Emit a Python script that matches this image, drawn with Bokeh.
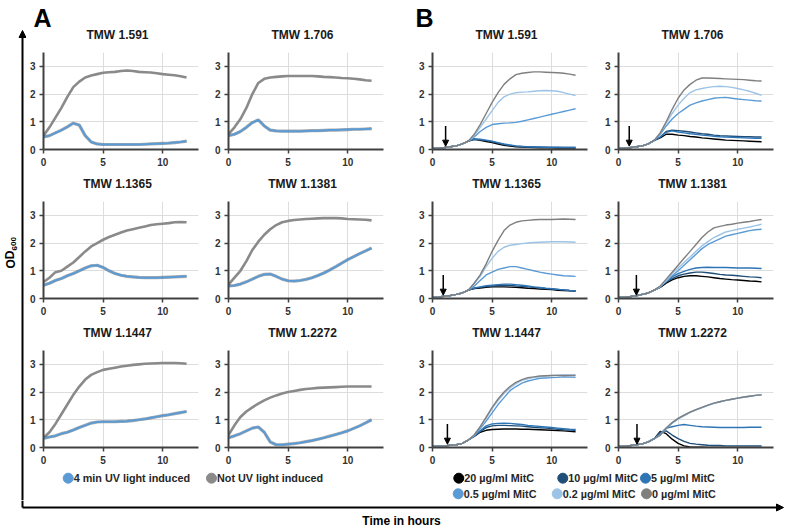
from bokeh.plotting import figure
from bokeh.layouts import row, column
from bokeh.models import Range1d, FixedTicker, Arrow, NormalHead
from bokeh.core.properties import value
from bokeh.embed import file_html
from bokeh.resources import INLINE

FONT = "Liberation Sans"

hours = [0, 0.5, 1, 1.5, 2, 2.5, 3, 3.5, 4, 4.5, 5, 5.5, 6, 6.5, 7, 7.5, 8, 8.5, 9, 9.5, 10, 10.5, 11, 11.5, 12]

strains = ["TMW 1.591", "TMW 1.706", "TMW 1.1365", "TMW 1.1381", "TMW 1.1447", "TMW 1.2272"]

# ---- Panel A: OD600, 4 min UV induced vs not induced ----
a_uv_591 = [0.45, 0.50, 0.60, 0.70, 0.82, 0.95, 0.88, 0.50, 0.27, 0.20, 0.18, 0.18, 0.18, 0.18, 0.18, 0.18, 0.18, 0.19, 0.20, 0.21, 0.22, 0.23, 0.25, 0.27, 0.30]
a_ctrl_591 = [0.50, 0.80, 1.15, 1.50, 1.90, 2.25, 2.45, 2.60, 2.67, 2.72, 2.77, 2.79, 2.80, 2.83, 2.85, 2.83, 2.80, 2.79, 2.78, 2.75, 2.72, 2.70, 2.68, 2.64, 2.60]
a_uv_706 = [0.50, 0.55, 0.65, 0.80, 0.97, 1.07, 0.85, 0.70, 0.67, 0.66, 0.66, 0.66, 0.66, 0.67, 0.68, 0.68, 0.69, 0.70, 0.70, 0.71, 0.72, 0.73, 0.73, 0.74, 0.75]
a_ctrl_706 = [0.55, 0.80, 1.10, 1.50, 2.00, 2.40, 2.55, 2.60, 2.62, 2.64, 2.65, 2.65, 2.65, 2.65, 2.65, 2.64, 2.62, 2.61, 2.60, 2.58, 2.57, 2.55, 2.53, 2.50, 2.48]
a_uv_1365 = [0.48, 0.55, 0.65, 0.72, 0.82, 0.90, 1.00, 1.10, 1.18, 1.20, 1.12, 1.00, 0.90, 0.84, 0.80, 0.78, 0.76, 0.75, 0.75, 0.75, 0.76, 0.77, 0.78, 0.79, 0.80]
a_ctrl_1365 = [0.60, 0.75, 0.95, 1.00, 1.15, 1.30, 1.50, 1.70, 1.88, 2.00, 2.12, 2.22, 2.30, 2.38, 2.45, 2.50, 2.55, 2.60, 2.65, 2.68, 2.70, 2.72, 2.75, 2.76, 2.75]
a_uv_1381 = [0.45, 0.47, 0.52, 0.60, 0.70, 0.80, 0.87, 0.88, 0.80, 0.70, 0.64, 0.63, 0.65, 0.69, 0.75, 0.83, 0.92, 1.03, 1.15, 1.28, 1.40, 1.51, 1.62, 1.72, 1.82]
a_ctrl_1381 = [0.50, 0.75, 1.00, 1.35, 1.75, 2.05, 2.30, 2.50, 2.65, 2.75, 2.80, 2.83, 2.85, 2.87, 2.88, 2.89, 2.90, 2.90, 2.90, 2.89, 2.87, 2.86, 2.85, 2.84, 2.82]
a_uv_1447 = [0.33, 0.38, 0.42, 0.50, 0.55, 0.63, 0.72, 0.80, 0.88, 0.92, 0.93, 0.93, 0.93, 0.94, 0.95, 0.97, 1.00, 1.03, 1.07, 1.11, 1.15, 1.18, 1.22, 1.26, 1.30]
a_ctrl_1447 = [0.35, 0.55, 0.85, 1.20, 1.55, 1.90, 2.20, 2.45, 2.62, 2.72, 2.80, 2.84, 2.88, 2.92, 2.95, 2.98, 3.00, 3.02, 3.03, 3.04, 3.05, 3.05, 3.05, 3.04, 3.02]
a_uv_2272 = [0.35, 0.42, 0.50, 0.60, 0.70, 0.74, 0.55, 0.20, 0.10, 0.10, 0.12, 0.14, 0.17, 0.21, 0.25, 0.30, 0.35, 0.41, 0.47, 0.53, 0.60, 0.69, 0.78, 0.89, 1.00]
a_ctrl_2272 = [0.45, 0.80, 1.10, 1.30, 1.45, 1.58, 1.70, 1.80, 1.88, 1.95, 2.00, 2.04, 2.08, 2.11, 2.13, 2.15, 2.16, 2.17, 2.18, 2.19, 2.20, 2.20, 2.20, 2.20, 2.20]

a_labels = ["4 min UV light induced", "Not UV light induced"]

# ---- Panel B: OD600 with mitomycin C ----
mitc_labels = ["20 \u00b5g/ml MitC", "10 \u00b5g/ml MitC", "5 \u00b5g/ml MitC",
               "0.5 \u00b5g/ml MitC", "0.2 \u00b5g/ml MitC", "0 \u00b5g/ml MitC"]
induction_hours = [1.1, 0.9, 0.9, 1.5, 1.25, 1.55]

b_591_20 = [0.05, 0.06, 0.07, 0.10, 0.13, 0.20, 0.30, 0.37, 0.33, 0.29, 0.25, 0.20, 0.15, 0.12, 0.10, 0.09, 0.08, 0.07, 0.06, 0.06, 0.06, 0.05, 0.05, 0.05, 0.05]
b_591_10 = [0.05, 0.06, 0.07, 0.10, 0.13, 0.20, 0.30, 0.37, 0.35, 0.32, 0.28, 0.23, 0.18, 0.15, 0.12, 0.11, 0.10, 0.09, 0.08, 0.08, 0.07, 0.07, 0.07, 0.07, 0.07]
b_591_5 = [0.05, 0.06, 0.07, 0.10, 0.13, 0.20, 0.30, 0.38, 0.37, 0.34, 0.30, 0.25, 0.20, 0.16, 0.13, 0.11, 0.10, 0.09, 0.09, 0.08, 0.08, 0.08, 0.07, 0.07, 0.07]
b_591_05 = [0.05, 0.06, 0.07, 0.10, 0.13, 0.20, 0.30, 0.45, 0.65, 0.80, 0.90, 0.93, 0.95, 0.96, 0.98, 1.02, 1.07, 1.12, 1.17, 1.22, 1.27, 1.32, 1.37, 1.42, 1.47]
b_591_02 = [0.05, 0.06, 0.07, 0.10, 0.13, 0.20, 0.30, 0.50, 0.80, 1.10, 1.40, 1.70, 1.90, 2.00, 2.05, 2.07, 2.08, 2.10, 2.12, 2.13, 2.12, 2.10, 2.05, 2.00, 1.95]
b_591_0 = [0.05, 0.06, 0.07, 0.10, 0.13, 0.20, 0.30, 0.55, 0.90, 1.30, 1.70, 2.05, 2.35, 2.55, 2.70, 2.75, 2.78, 2.80, 2.80, 2.79, 2.78, 2.77, 2.75, 2.72, 2.68]

b_706_20 = [0.05, 0.06, 0.07, 0.10, 0.13, 0.20, 0.33, 0.42, 0.55, 0.55, 0.52, 0.50, 0.47, 0.45, 0.42, 0.40, 0.38, 0.36, 0.34, 0.33, 0.32, 0.31, 0.30, 0.29, 0.28]
b_706_10 = [0.05, 0.06, 0.07, 0.10, 0.13, 0.20, 0.33, 0.45, 0.65, 0.70, 0.68, 0.66, 0.63, 0.60, 0.57, 0.55, 0.52, 0.50, 0.49, 0.48, 0.47, 0.46, 0.46, 0.45, 0.45]
b_706_5 = [0.05, 0.06, 0.07, 0.10, 0.13, 0.20, 0.33, 0.45, 0.62, 0.67, 0.63, 0.60, 0.57, 0.55, 0.52, 0.50, 0.48, 0.46, 0.45, 0.44, 0.43, 0.42, 0.41, 0.40, 0.40]
b_706_05 = [0.05, 0.06, 0.07, 0.10, 0.13, 0.20, 0.33, 0.55, 0.85, 1.10, 1.30, 1.45, 1.60, 1.68, 1.75, 1.80, 1.85, 1.87, 1.88, 1.85, 1.82, 1.80, 1.78, 1.76, 1.75]
b_706_02 = [0.05, 0.06, 0.07, 0.10, 0.13, 0.20, 0.33, 0.60, 0.95, 1.30, 1.60, 1.85, 2.05, 2.15, 2.20, 2.24, 2.27, 2.28, 2.27, 2.24, 2.20, 2.15, 2.10, 2.03, 1.95]
b_706_0 = [0.05, 0.06, 0.07, 0.10, 0.13, 0.20, 0.33, 0.60, 1.00, 1.45, 1.85, 2.15, 2.35, 2.50, 2.58, 2.58, 2.57, 2.56, 2.55, 2.54, 2.53, 2.52, 2.50, 2.48, 2.47]

b_1365_20 = [0.05, 0.06, 0.08, 0.11, 0.15, 0.20, 0.30, 0.36, 0.38, 0.40, 0.42, 0.42, 0.42, 0.41, 0.40, 0.39, 0.37, 0.36, 0.34, 0.33, 0.32, 0.30, 0.29, 0.28, 0.27]
b_1365_10 = [0.05, 0.06, 0.08, 0.11, 0.15, 0.20, 0.30, 0.37, 0.40, 0.43, 0.45, 0.47, 0.48, 0.47, 0.45, 0.44, 0.42, 0.40, 0.38, 0.36, 0.35, 0.33, 0.31, 0.29, 0.28]
b_1365_5 = [0.05, 0.06, 0.08, 0.11, 0.15, 0.20, 0.30, 0.38, 0.42, 0.46, 0.48, 0.50, 0.52, 0.52, 0.50, 0.48, 0.45, 0.42, 0.40, 0.37, 0.35, 0.33, 0.31, 0.29, 0.28]
b_1365_05 = [0.05, 0.06, 0.08, 0.11, 0.15, 0.20, 0.30, 0.45, 0.65, 0.85, 0.95, 1.05, 1.10, 1.15, 1.15, 1.10, 1.05, 1.00, 0.95, 0.91, 0.88, 0.85, 0.82, 0.81, 0.80]
b_1365_02 = [0.05, 0.06, 0.08, 0.11, 0.15, 0.20, 0.30, 0.55, 0.80, 1.15, 1.45, 1.70, 1.85, 1.92, 1.95, 1.98, 2.00, 2.02, 2.03, 2.04, 2.05, 2.05, 2.05, 2.04, 2.03]
b_1365_0 = [0.05, 0.06, 0.08, 0.11, 0.15, 0.20, 0.30, 0.55, 0.85, 1.25, 1.70, 2.10, 2.45, 2.65, 2.75, 2.80, 2.82, 2.84, 2.85, 2.85, 2.85, 2.86, 2.87, 2.86, 2.85]

b_1381_20 = [0.05, 0.06, 0.07, 0.10, 0.15, 0.20, 0.30, 0.40, 0.55, 0.67, 0.75, 0.80, 0.82, 0.82, 0.80, 0.78, 0.75, 0.72, 0.70, 0.68, 0.67, 0.65, 0.63, 0.62, 0.60]
b_1381_10 = [0.05, 0.06, 0.07, 0.10, 0.15, 0.20, 0.30, 0.42, 0.60, 0.72, 0.82, 0.88, 0.92, 0.95, 0.95, 0.93, 0.90, 0.87, 0.85, 0.84, 0.82, 0.80, 0.78, 0.77, 0.75]
b_1381_5 = [0.05, 0.06, 0.07, 0.10, 0.15, 0.20, 0.30, 0.43, 0.62, 0.78, 0.90, 0.98, 1.05, 1.10, 1.12, 1.13, 1.12, 1.12, 1.12, 1.11, 1.10, 1.10, 1.10, 1.09, 1.08]
b_1381_05 = [0.05, 0.06, 0.07, 0.10, 0.15, 0.20, 0.30, 0.43, 0.62, 0.82, 1.00, 1.20, 1.40, 1.60, 1.80, 1.95, 2.05, 2.15, 2.25, 2.30, 2.35, 2.40, 2.45, 2.48, 2.50]
b_1381_02 = [0.05, 0.06, 0.07, 0.10, 0.15, 0.20, 0.30, 0.43, 0.65, 0.90, 1.10, 1.30, 1.50, 1.70, 1.90, 2.05, 2.20, 2.30, 2.40, 2.45, 2.50, 2.54, 2.58, 2.63, 2.68]
b_1381_0 = [0.05, 0.06, 0.07, 0.10, 0.15, 0.20, 0.30, 0.45, 0.70, 0.95, 1.20, 1.45, 1.70, 1.95, 2.20, 2.40, 2.55, 2.60, 2.65, 2.68, 2.72, 2.75, 2.78, 2.82, 2.85]

b_1447_20 = [0.05, 0.05, 0.06, 0.08, 0.10, 0.15, 0.27, 0.40, 0.55, 0.62, 0.65, 0.66, 0.67, 0.67, 0.67, 0.66, 0.66, 0.65, 0.64, 0.63, 0.62, 0.61, 0.60, 0.58, 0.57]
b_1447_10 = [0.05, 0.05, 0.06, 0.08, 0.10, 0.15, 0.27, 0.42, 0.58, 0.72, 0.78, 0.80, 0.80, 0.79, 0.78, 0.77, 0.75, 0.73, 0.71, 0.70, 0.68, 0.66, 0.64, 0.63, 0.62]
b_1447_5 = [0.05, 0.05, 0.06, 0.08, 0.10, 0.15, 0.27, 0.42, 0.60, 0.78, 0.85, 0.87, 0.88, 0.87, 0.85, 0.83, 0.80, 0.78, 0.76, 0.74, 0.72, 0.70, 0.68, 0.66, 0.65]
b_1447_05 = [0.05, 0.05, 0.06, 0.08, 0.10, 0.15, 0.27, 0.42, 0.68, 0.95, 1.25, 1.55, 1.80, 2.05, 2.20, 2.32, 2.40, 2.45, 2.50, 2.51, 2.52, 2.53, 2.55, 2.54, 2.53]
b_1447_02 = [0.05, 0.05, 0.06, 0.08, 0.10, 0.15, 0.27, 0.45, 0.75, 1.05, 1.40, 1.70, 1.95, 2.15, 2.30, 2.42, 2.48, 2.52, 2.55, 2.58, 2.60, 2.61, 2.62, 2.62, 2.62]
b_1447_0 = [0.05, 0.05, 0.06, 0.08, 0.10, 0.15, 0.27, 0.45, 0.75, 1.10, 1.45, 1.75, 2.00, 2.20, 2.35, 2.45, 2.52, 2.55, 2.58, 2.59, 2.60, 2.60, 2.60, 2.60, 2.60]

b_2272_20 = [0.05, 0.06, 0.07, 0.10, 0.13, 0.20, 0.32, 0.58, 0.50, 0.30, 0.15, 0.06, 0.02, 0.01, 0.01, 0.00, 0.00, 0.00, 0.00, 0.00, 0.00, 0.00, 0.00, 0.00, 0.00]
b_2272_10 = [0.05, 0.06, 0.07, 0.10, 0.13, 0.20, 0.32, 0.55, 0.60, 0.45, 0.32, 0.22, 0.15, 0.12, 0.10, 0.08, 0.07, 0.07, 0.06, 0.06, 0.06, 0.06, 0.06, 0.06, 0.06]
b_2272_5 = [0.05, 0.06, 0.07, 0.10, 0.13, 0.20, 0.32, 0.50, 0.70, 0.75, 0.80, 0.83, 0.80, 0.77, 0.75, 0.74, 0.73, 0.72, 0.72, 0.72, 0.72, 0.72, 0.73, 0.73, 0.73]
b_2272_05 = [0.05, 0.06, 0.07, 0.10, 0.13, 0.20, 0.32, 0.45, 0.68, 0.88, 1.03, 1.15, 1.27, 1.36, 1.44, 1.52, 1.59, 1.65, 1.70, 1.74, 1.78, 1.81, 1.85, 1.88, 1.90]
b_2272_02 = [0.05, 0.06, 0.07, 0.10, 0.13, 0.20, 0.32, 0.45, 0.70, 0.90, 1.05, 1.17, 1.28, 1.37, 1.45, 1.53, 1.60, 1.65, 1.70, 1.74, 1.78, 1.82, 1.85, 1.88, 1.91]
b_2272_0 = [0.05, 0.06, 0.07, 0.10, 0.13, 0.20, 0.32, 0.45, 0.70, 0.90, 1.05, 1.17, 1.28, 1.37, 1.45, 1.53, 1.60, 1.65, 1.70, 1.74, 1.78, 1.82, 1.85, 1.88, 1.90]

a_uv = [a_uv_591, a_uv_706, a_uv_1365, a_uv_1381, a_uv_1447, a_uv_2272]
a_ctrl = [a_ctrl_591, a_ctrl_706, a_ctrl_1365, a_ctrl_1381, a_ctrl_1447, a_ctrl_2272]
b_series = [
    [b_591_20, b_591_10, b_591_5, b_591_05, b_591_02, b_591_0],
    [b_706_20, b_706_10, b_706_5, b_706_05, b_706_02, b_706_0],
    [b_1365_20, b_1365_10, b_1365_5, b_1365_05, b_1365_02, b_1365_0],
    [b_1381_20, b_1381_10, b_1381_5, b_1381_05, b_1381_02, b_1381_0],
    [b_1447_20, b_1447_10, b_1447_5, b_1447_05, b_1447_02, b_1447_0],
    [b_2272_20, b_2272_10, b_2272_5, b_2272_05, b_2272_02, b_2272_0],
]

UV_BLUE = "#5B9BD5"
CTRL_GRAY = "#8A8A8A"
mitc_colors = ["#000000", "#1F4E79", "#2E75B6", "#5B9BD5", "#9DC3E6", "#7F7F7F"]
AXIS_C = "#404040"

# layout geometry (pixels)
col_widths = [185, 204, 186, 186]
col_border_right = [13, 32, 14, 14]
row_border_bottom = [28, 28, 24]
BORDER_LEFT = 17
BORDER_TOP = 2
FRAME_H = 97
LEFT_W = 26
TOP_H = 50          # panel letters + first row titles
TITLE_H = 22        # title strips for rows 2 and 3
LEG_H = 29
BOT_H = 28
title_x = [91, 276, 480, 666]   # title centres inside a strip


def panel(w, br, bb):
    p = figure(width=w, height=BORDER_TOP + FRAME_H + bb,
               x_range=Range1d(0, 13), y_range=Range1d(0, 3.5),
               output_backend="svg", toolbar_location=None, title=None,
               min_border_left=BORDER_LEFT, min_border_right=br,
               min_border_top=BORDER_TOP, min_border_bottom=bb)
    p.outline_line_color = None
    p.background_fill_color = "white"
    p.border_fill_color = "white"
    p.xaxis.ticker = FixedTicker(ticks=[0, 5, 10])
    p.yaxis.ticker = FixedTicker(ticks=[0, 1, 2, 3])
    for ax in (p.xaxis[0], p.yaxis[0]):
        ax.axis_line_color = AXIS_C
        ax.axis_line_width = 2
        ax.major_tick_line_color = AXIS_C
        ax.major_tick_line_width = 1.5
        ax.major_tick_in = 0
        ax.major_tick_out = 4
        ax.minor_tick_line_color = None
        ax.major_label_text_font = FONT
        ax.major_label_text_font_size = "10px"
        ax.major_label_text_font_style = "bold"
        ax.major_label_text_color = "#333333"
        ax.major_label_standoff = 4
    p.grid.grid_line_color = "#DDDDDD"
    p.grid.grid_line_width = 1
    return p


def canvas(w, h):
    c = figure(width=w, height=h, x_range=Range1d(0, w), y_range=Range1d(0, h),
               output_backend="svg", toolbar_location=None, min_border=0,
               x_axis_type=None, y_axis_type=None, title=None)
    c.grid.visible = False
    c.outline_line_color = None
    c.background_fill_color = "white"
    c.border_fill_color = "white"
    return c


def add_titles(strip, r, y):
    names = [strains[r * 2], strains[r * 2 + 1], strains[r * 2], strains[r * 2 + 1]]
    strip.text(x=title_x, y=[y] * 4, text=names, text_font=value(FONT),
               text_font_size="12px", text_font_style="bold", text_align="center",
               text_baseline="middle", text_color="#1a1a1a")


INNER_W = sum(col_widths)  # 761

blocks = []
# top strip: panel letters and first row titles
top = canvas(INNER_W, TOP_H)
top.text(x=[7, 389], y=[TOP_H - 17, TOP_H - 17], text=["A", "B"], text_font=value(FONT),
         text_font_size="25px", text_font_style="bold", text_align="left",
         text_baseline="middle", text_color="black")
add_titles(top, 0, TOP_H - 34)
blocks.append(top)

for r in range(3):
    if r > 0:
        ts = canvas(INNER_W, TITLE_H)
        add_titles(ts, r, TITLE_H - 6)
        blocks.append(ts)
    figs = []
    for c in range(4):
        p = panel(col_widths[c], col_border_right[c], row_border_bottom[r])
        if c < 2:
            k = r * 2 + c
            p.line(hours, a_ctrl[k], line_color=CTRL_GRAY, line_width=2.6)
            p.line(hours, a_uv[k], line_color="#2b2b2b", line_width=3.2, line_alpha=0.4)
            p.line(hours, a_uv[k], line_color=UV_BLUE, line_width=2)
        else:
            k = r * 2 + (c - 2)
            for ys, col in zip(b_series[k], mitc_colors):
                p.line(hours, ys, line_color=col, line_width=1.4)
            t = induction_hours[k]
            p.add_layout(Arrow(end=NormalHead(size=6, fill_color="black", line_color="black"),
                               x_start=t, y_start=0.85, x_end=t, y_end=0.12,
                               line_color="black", line_width=1.5))
        figs.append(p)
    blocks.append(row(*figs, spacing=0))

# legend strip
leg = canvas(INNER_W, LEG_H)
lx = [41.7, 185, 432.3, 536.3, 619, 431.7, 530.7, 620]
ly = [22.3, 22.3, 22.3, 22.3, 22.3, 6.7, 6.7, 6.7]
lcol = [UV_BLUE, CTRL_GRAY] + mitc_colors
ltxt = a_labels + mitc_labels
leg.scatter(x=lx, y=ly, marker="circle", size=10, fill_color=lcol, line_color=lcol)
leg.text(x=[v + 5.5 for v in lx], y=ly, text=ltxt, text_font=value(FONT),
         text_font_size="10.8px", text_font_style="bold", text_align="left",
         text_baseline="middle", text_color="#262626")
blocks.append(leg)

LEFT_H = TOP_H + 2 * TITLE_H + 3 * (BORDER_TOP + FRAME_H) + sum(row_border_bottom) + LEG_H  # 500
left = canvas(LEFT_W, LEFT_H)
left.add_layout(Arrow(end=NormalHead(size=7, fill_color="black", line_color="black"),
                      x_start=22, y_start=0, x_end=22, y_end=LEFT_H - 30,
                      line_color="black", line_width=2))
left.text(x=[10], y=[LEFT_H - 259], text=["OD"], text_font=value(FONT),
          text_font_size="12px", text_font_style="bold", text_align="center",
          text_baseline="middle", angle=1.5708, text_color="black")
left.text(x=[13.5], y=[LEFT_H - 259 + 9], text=["600"], text_font=value(FONT),
          text_font_size="8px", text_font_style="bold", text_align="left",
          text_baseline="middle", angle=1.5708, text_color="black")

# bottom strip with time axis
BOT_W = LEFT_W + INNER_W  # 787
bottom = canvas(BOT_W, BOT_H)
bottom.segment(x0=[22], y0=[BOT_H], x1=[22], y1=[BOT_H - 7], line_color="black", line_width=2)
bottom.add_layout(Arrow(end=NormalHead(size=7, fill_color="black", line_color="black"),
                        x_start=22, y_start=BOT_H - 7, x_end=BOT_W - 4, y_end=BOT_H - 7,
                        line_color="black", line_width=2))
bottom.text(x=[401], y=[8], text=["Time in hours"], text_font=value(FONT),
            text_font_size="12px", text_font_style="bold", text_align="center",
            text_baseline="middle", text_color="black")

main = column(*blocks, spacing=0)
layout = column(row(left, main, spacing=0), bottom, spacing=0)

open("out.html", "w").write(file_html(layout, INLINE))
